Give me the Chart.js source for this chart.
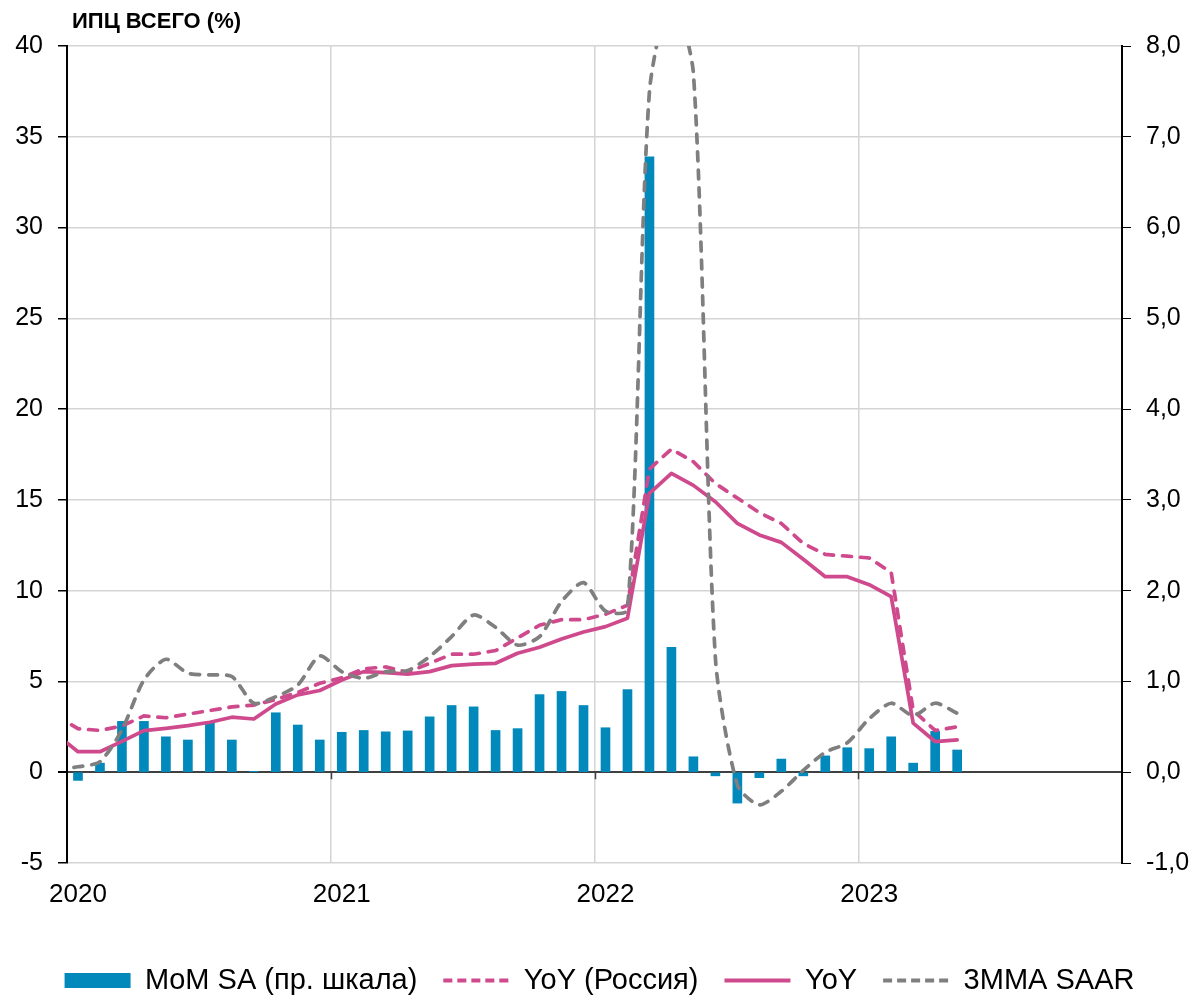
<!DOCTYPE html>
<html lang="ru">
<head>
<meta charset="utf-8">
<title>ИПЦ всего</title>
<script src="https://cdn.jsdelivr.net/npm/chart.js@4.4.1/dist/chart.umd.min.js"></script>
<style>
  html, body { margin: 0; padding: 0; background: #ffffff; }
  #wrap { width: 1199px; height: 996px; }
  canvas { display: block; }
</style>
</head>
<body>
<div id="wrap"><canvas id="cpi" width="1199" height="996"></canvas></div>
<script>
// Monthly observations; the December 2019 point lies left of the plot and is clipped.
const months = [
  '2019-12',
  '2020-01','2020-02','2020-03','2020-04','2020-05','2020-06','2020-07','2020-08','2020-09','2020-10','2020-11','2020-12',
  '2021-01','2021-02','2021-03','2021-04','2021-05','2021-06','2021-07','2021-08','2021-09','2021-10','2021-11','2021-12',
  '2022-01','2022-02','2022-03','2022-04','2022-05','2022-06','2022-07','2022-08','2022-09','2022-10','2022-11','2022-12',
  '2023-01','2023-02','2023-03','2023-04','2023-05'
];

// MoM SA, % (right scale)
const momSA = [
  null,
  -0.09, 0.10, 0.56, 0.56, 0.39, 0.355, 0.55, 0.355, 0.01, 0.655, 0.52, 0.355,
  0.44, 0.46, 0.445, 0.455, 0.61, 0.735, 0.72, 0.46, 0.48, 0.855, 0.89, 0.735,
  0.49, 0.91, 6.78, 1.375, 0.17, -0.04, -0.34, -0.06, 0.145, -0.04, 0.18, 0.27,
  0.26, 0.39, 0.10, 0.45, 0.245
];

// YoY, Russia, % (left scale)
const yoyRussia = [
  3.1,
  2.4, 2.3, 2.55, 3.1, 3.0, 3.2, 3.4, 3.6, 3.7, 4.0, 4.4, 4.9,
  5.2, 5.7, 5.8, 5.5, 6.0, 6.5, 6.5, 6.7, 7.4, 8.1, 8.4, 8.4,
  8.7, 9.2, 16.7, 17.8, 17.1, 15.9, 15.1, 14.3, 13.7, 12.6, 12.0, 11.9,
  11.8, 11.0, 3.4, 2.3, 2.5
];

// YoY, % (left scale)
const yoy = [
  2.1,
  1.13, 1.13, 1.7, 2.29, 2.42, 2.57, 2.75, 3.03, 2.93, 3.76, 4.26, 4.5,
  5.08, 5.54, 5.49, 5.4, 5.54, 5.87, 5.95, 6.0, 6.55, 6.88, 7.34, 7.72,
  8.02, 8.48, 15.36, 16.46, 15.8, 14.9, 13.71, 13.07, 12.66, 11.73, 10.77, 10.77,
  10.33, 9.67, 2.7, 1.69, 1.78
];

// 3-month moving average, seasonally adjusted annual rate, % (left scale)
const saar3m = [
  0.15,
  0.3, 0.58, 2.33, 5.08, 6.22, 5.45, 5.36, 5.27, 3.8, 4.16, 4.8, 6.4,
  5.54, 5.17, 5.54, 5.6, 6.37, 7.47, 8.66, 7.98, 7.0, 7.47, 9.4, 10.44,
  8.87, 8.94, 37.5, 42.8, 38.5, 6.3, -0.7, -1.8, -1.05, 0.1, 1.1, 1.62,
  2.95, 3.8, 3.12, 3.8, 3.25
];

const yearLabels = ['2020', '2021', '2022', '2023', ''];
const yearBoundaries = [0, 12, 24, 36, 48];   // months since Jan 2020
const leftTicks = { min: -5, max: 40, step: 5 };
const rightTicks = { min: -1, max: 8, step: 1 };
const seriesNames = ['MoM SA (пр. шкала)', 'YoY (Россия)', 'YoY', '3MMA SAAR'];
const chartTitle = 'ИПЦ ВСЕГО (%)';

const BLUE = '#0089BA';
const PINK = '#CF4A8D';
const GREY = '#7F7F7F';
const GRID = '#D4D4D4';
const FONT = '"Liberation Sans", Arial, Helvetica, sans-serif';

// Points are centred inside their month: Jan 2020 -> 0.5, Dec 2019 -> -0.5
const toPoints = (vals) => vals
  .map((v, i) => ({ x: i - 0.5, y: v }))
  .filter(p => p.y !== null);

Chart.defaults.font.family = FONT;
Chart.defaults.color = '#000';

const headingPlugin = {
  id: 'heading',
  afterDraw(chart) {
    const { ctx, chartArea } = chart;
    ctx.save();
    ctx.font = 'bold 22px ' + FONT;
    ctx.fillStyle = '#000';
    ctx.textAlign = 'left';
    ctx.textBaseline = 'middle';
    ctx.fillText(chartTitle, chartArea.left + 5, 22);
    ctx.restore();
  }
};

// Small tick marks on the zero line at each year boundary
const zeroTicksPlugin = {
  id: 'zeroTicks',
  afterDatasetsDraw(chart) {
    const { ctx, scales } = chart;
    const y0 = scales.y.getPixelForValue(0);
    ctx.save();
    ctx.strokeStyle = '#404040';
    ctx.lineWidth = 1.5;
    yearBoundaries.slice(1, -1).forEach(m => {
      const x = Math.round(scales.x.getPixelForValue(m)) + 0.5;
      ctx.beginPath();
      ctx.moveTo(x, y0);
      ctx.lineTo(x, y0 + 7);
      ctx.stroke();
    });
    ctx.restore();
  }
};

const dashed = [9, 9];

new Chart(document.getElementById('cpi'), {
  data: {
    datasets: [
      {
        type: 'bar',
        label: seriesNames[0],
        data: toPoints(momSA),
        yAxisID: 'y1',
        backgroundColor: BLUE,
        borderWidth: 0,
        barThickness: 9,
        order: 4
      },
      {
        type: 'line',
        label: seriesNames[1],
        data: toPoints(yoyRussia),
        yAxisID: 'y',
        borderColor: PINK,
        backgroundColor: PINK,
        borderWidth: 3.7,
        borderDash: dashed,
        borderCapStyle: 'round',
        pointRadius: 0,
        tension: 0,
        order: 3
      },
      {
        type: 'line',
        label: seriesNames[2],
        data: toPoints(yoy),
        yAxisID: 'y',
        borderColor: PINK,
        backgroundColor: PINK,
        borderWidth: 3.7,
        borderCapStyle: 'round',
        borderJoinStyle: 'round',
        pointRadius: 0,
        tension: 0,
        order: 2
      },
      {
        type: 'line',
        label: seriesNames[3],
        data: toPoints(saar3m),
        yAxisID: 'y',
        borderColor: GREY,
        backgroundColor: GREY,
        borderWidth: 3.7,
        borderDash: dashed,
        borderCapStyle: 'round',
        pointRadius: 0,
        tension: 0.25,
        order: 1
      }
    ]
  },
  options: {
    responsive: false,
    animation: false,
    events: [],
    layout: { padding: { top: 46, left: 0, right: 0, bottom: 0 } },
    scales: {
      x: {
        type: 'linear',
        offset: false,
        min: yearBoundaries[0],
        max: yearBoundaries[yearBoundaries.length - 1],
        afterBuildTicks(scale) {
          scale.ticks = yearBoundaries.map(v => ({ value: v }));
        },
        afterFit(scale) { scale.height = 77; },
        grid: { color: GRID, lineWidth: 1.5, drawTicks: false, offset: false },
        border: { display: false },
        ticks: {
          autoSkip: false,
          maxRotation: 0,
          padding: 16,
          labelOffset: 11,
          font: { size: 26 },
          color: '#000',
          callback: (v, i) => yearLabels[i] || ''
        }
      },
      y: {
        position: 'left',
        min: leftTicks.min,
        max: leftTicks.max,
        afterFit(scale) { scale.width = 67; },
        ticks: {
          stepSize: leftTicks.step,
          padding: 15,
          font: { size: 25 },
          color: '#000'
        },
        grid: {
          color: (c) => (c.tick && c.tick.value === 0) ? '#404040' : GRID,
          lineWidth: (c) => (c.tick && c.tick.value === 0) ? 2 : 1.5,
          tickColor: '#000',
          tickLength: 9
        },
        border: { display: true, color: '#000', width: 2 }
      },
      y1: {
        position: 'right',
        min: rightTicks.min,
        max: rightTicks.max,
        afterFit(scale) { scale.width = 77; },
        ticks: {
          stepSize: rightTicks.step,
          padding: 15,
          font: { size: 25 },
          color: '#000',
          callback: (v) => v.toFixed(1).replace('.', ',')
        },
        grid: {
          drawOnChartArea: false,
          tickColor: '#000',
          tickLength: 9
        },
        border: { display: true, color: '#000', width: 2 }
      }
    },
    plugins: {
      tooltip: { enabled: false },
      title: { display: false },
      legend: {
        display: true,
        position: 'bottom',
        maxHeight: 56,
        labels: {
          usePointStyle: true,
          pointStyleWidth: 66,
          boxHeight: 15,
          padding: 26,
          color: '#000',
          font: { size: 29 },
          sort: (a, b) => a.datasetIndex - b.datasetIndex,
          generateLabels(chart) {
            const items = Chart.defaults.plugins.legend.labels.generateLabels(chart);
            items.forEach(it => {
              const ds = chart.data.datasets[it.datasetIndex];
              it.pointStyle = ds.type === 'bar' ? 'rect' : 'line';
              if (ds.type === 'bar') {
                it.lineWidth = 0;
              } else {
                it.lineWidth = 4;
                it.lineCap = 'butt';
                it.lineDash = ds.borderDash ? [9, 5] : [];
              }
            });
            return items;
          }
        }
      }
    }
  },
  plugins: [headingPlugin, zeroTicksPlugin]
});
</script>
</body>
</html>
